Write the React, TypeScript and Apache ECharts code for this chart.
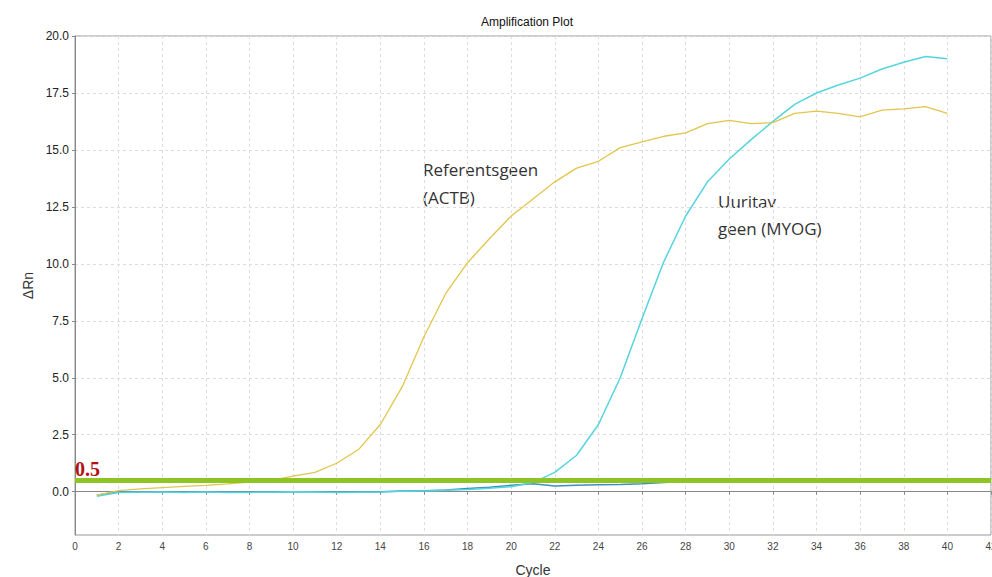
import React, { useEffect, useRef } from "react";
import * as echarts from "echarts";

const cycles = Array.from({ length: 40 }, (_, i) => i + 1);

const actb = [
  -0.15, 0.05, 0.12, 0.18, 0.23, 0.28, 0.34, 0.42, 0.5, 0.68,
  0.85, 1.25, 1.85, 2.95, 4.6, 6.8, 8.7, 10.05, 11.1, 12.1,
  12.85, 13.6, 14.2, 14.5, 15.1, 15.35, 15.6, 15.75, 16.15, 16.3,
  16.15, 16.2, 16.6, 16.7, 16.6, 16.45, 16.75, 16.8, 16.9, 16.6,
];

const myog = [
  -0.2, -0.03, -0.02, -0.01, -0.03, -0.01, -0.03, -0.03, -0.02, 0.0,
  -0.01, -0.03, -0.02, -0.01, 0.02, 0.03, 0.06, 0.1, 0.15, 0.22,
  0.4, 0.85, 1.6, 2.95, 5.0, 7.6, 10.1, 12.1, 13.6, 14.6,
  15.45, 16.25, 17.0, 17.5, 17.85, 18.15, 18.55, 18.85, 19.1, 19.0,
];

const baseline2 = [
  -0.15, 0.0, -0.01, 0.0, -0.02, -0.01, -0.02, -0.02, -0.01, 0.0,
  0.0, -0.02, -0.01, 0.0, 0.03, 0.04, 0.08, 0.14, 0.2, 0.28,
  0.35, 0.25, 0.28, 0.3, 0.32, 0.35, 0.4, 0.45, 0.48, 0.49,
  0.5, 0.5, 0.5, 0.5, 0.5, 0.5, 0.5, 0.5, 0.5, 0.5,
];

const threshold = 0.5;
const yTicks = [0, 2.5, 5, 7.5, 10, 12.5, 15, 17.5, 20];

export default function App() {
  const ref = useRef<HTMLDivElement>(null);
  useEffect(() => {
    const chart = echarts.init(ref.current!, null, { renderer: "svg" });
    const pairs = (vals: number[]) => cycles.map((c, i) => [c, vals[i]]);
    chart.setOption({
      animation: false,
      backgroundColor: "#fff",
      title: {
        text: "Amplification Plot",
        left: 522,
        top: 11,
        textAlign: "center",
        textStyle: { fontFamily: "Liberation Sans", fontSize: 12, fontWeight: "normal", color: "#111" },
      },
      grid: {
        left: 75,
        right: 1,
        top: 36,
        bottom: 42,
        show: true,
        borderColor: "#999",
        borderWidth: 1,
        outerBoundsMode: "none",
        containLabel: false,
      },
      xAxis: {
        type: "value",
        min: 0,
        max: 42,
        interval: 2,
        name: "Cycle",
        nameLocation: "middle",
        nameGap: 28,
        nameTextStyle: { fontFamily: "Liberation Sans", fontSize: 14, color: "#333" },
        axisLine: { lineStyle: { color: "#888" } },
        axisTick: { show: true, length: 3, lineStyle: { color: "#888" } },
        axisLabel: { fontFamily: "Liberation Sans", fontSize: 10, color: "#444", margin: 6 },
        splitLine: { show: true, lineStyle: { color: "#ddd", type: [3, 3] } },
      },
      yAxis: {
        type: "value",
        min: -1.9,
        max: 20,
        name: "ΔRn",
        nameLocation: "middle",
        nameGap: 40,
        nameTextStyle: { fontFamily: "Liberation Sans", fontSize: 14, color: "#333" },
        axisLine: { show: true, lineStyle: { color: "#888" } },
        axisTick: { show: true, length: 3, customValues: yTicks, lineStyle: { color: "#888" } },
        axisLabel: {
          customValues: yTicks,
          fontFamily: "Liberation Sans",
          fontSize: 12,
          color: "#222",
          margin: 6,
          formatter: (v: number) => v.toFixed(1),
        },
        splitLine: { show: true, lineStyle: { color: "#ddd", type: [3, 3] } },
      },
      series: [
        {
          name: "Baseline",
          type: "line",
          data: pairs(baseline2),
          showSymbol: false,
          lineStyle: { color: "#3b8fc4", width: 1.5 },
          z: 2,
        },
        {
          name: "MYOG",
          type: "line",
          data: pairs(myog),
          showSymbol: false,
          lineStyle: { color: "#55d4e0", width: 1.5 },
          z: 3,
        },
        {
          name: "ACTB",
          type: "line",
          data: pairs(actb),
          showSymbol: false,
          lineStyle: { color: "#e2c54c", width: 1.3 },
          z: 4,
          markLine: {
            silent: true,
            symbol: "none",
            z: 5,
            lineStyle: { color: "#8fc425", width: 5, type: "solid" },
            label: {
              show: true,
              position: "insideStartTop",
              distance: [0, 1],
              formatter: "0.5",
              color: "#b31010",
              fontFamily: "Liberation Serif",
              fontWeight: "bold",
              fontSize: 20,
            },
            data: [{ yAxis: threshold }],
          },
        },
      ],
      graphic: [
        {
          type: "text",
          left: 423,
          top: 155,
          style: {
            text: "Referentsgeen\n(ACTB)",
            font: "17px 'Open Sans'",
            lineHeight: 28,
            fill: "#333",
          },
        },
        {
          type: "text",
          left: 718,
          top: 188,
          style: {
            text: "Uuritav\ngeen (MYOG)",
            font: "17px 'Open Sans'",
            lineHeight: 27,
            fill: "#333",
          },
        },
      ],
    });
    return () => chart.dispose();
  }, []);
  return (
    <div
      ref={ref}
      style={{ position: "fixed", left: 0, top: 0, width: 992, height: 577, background: "#fff" }}
    />
  );
}
